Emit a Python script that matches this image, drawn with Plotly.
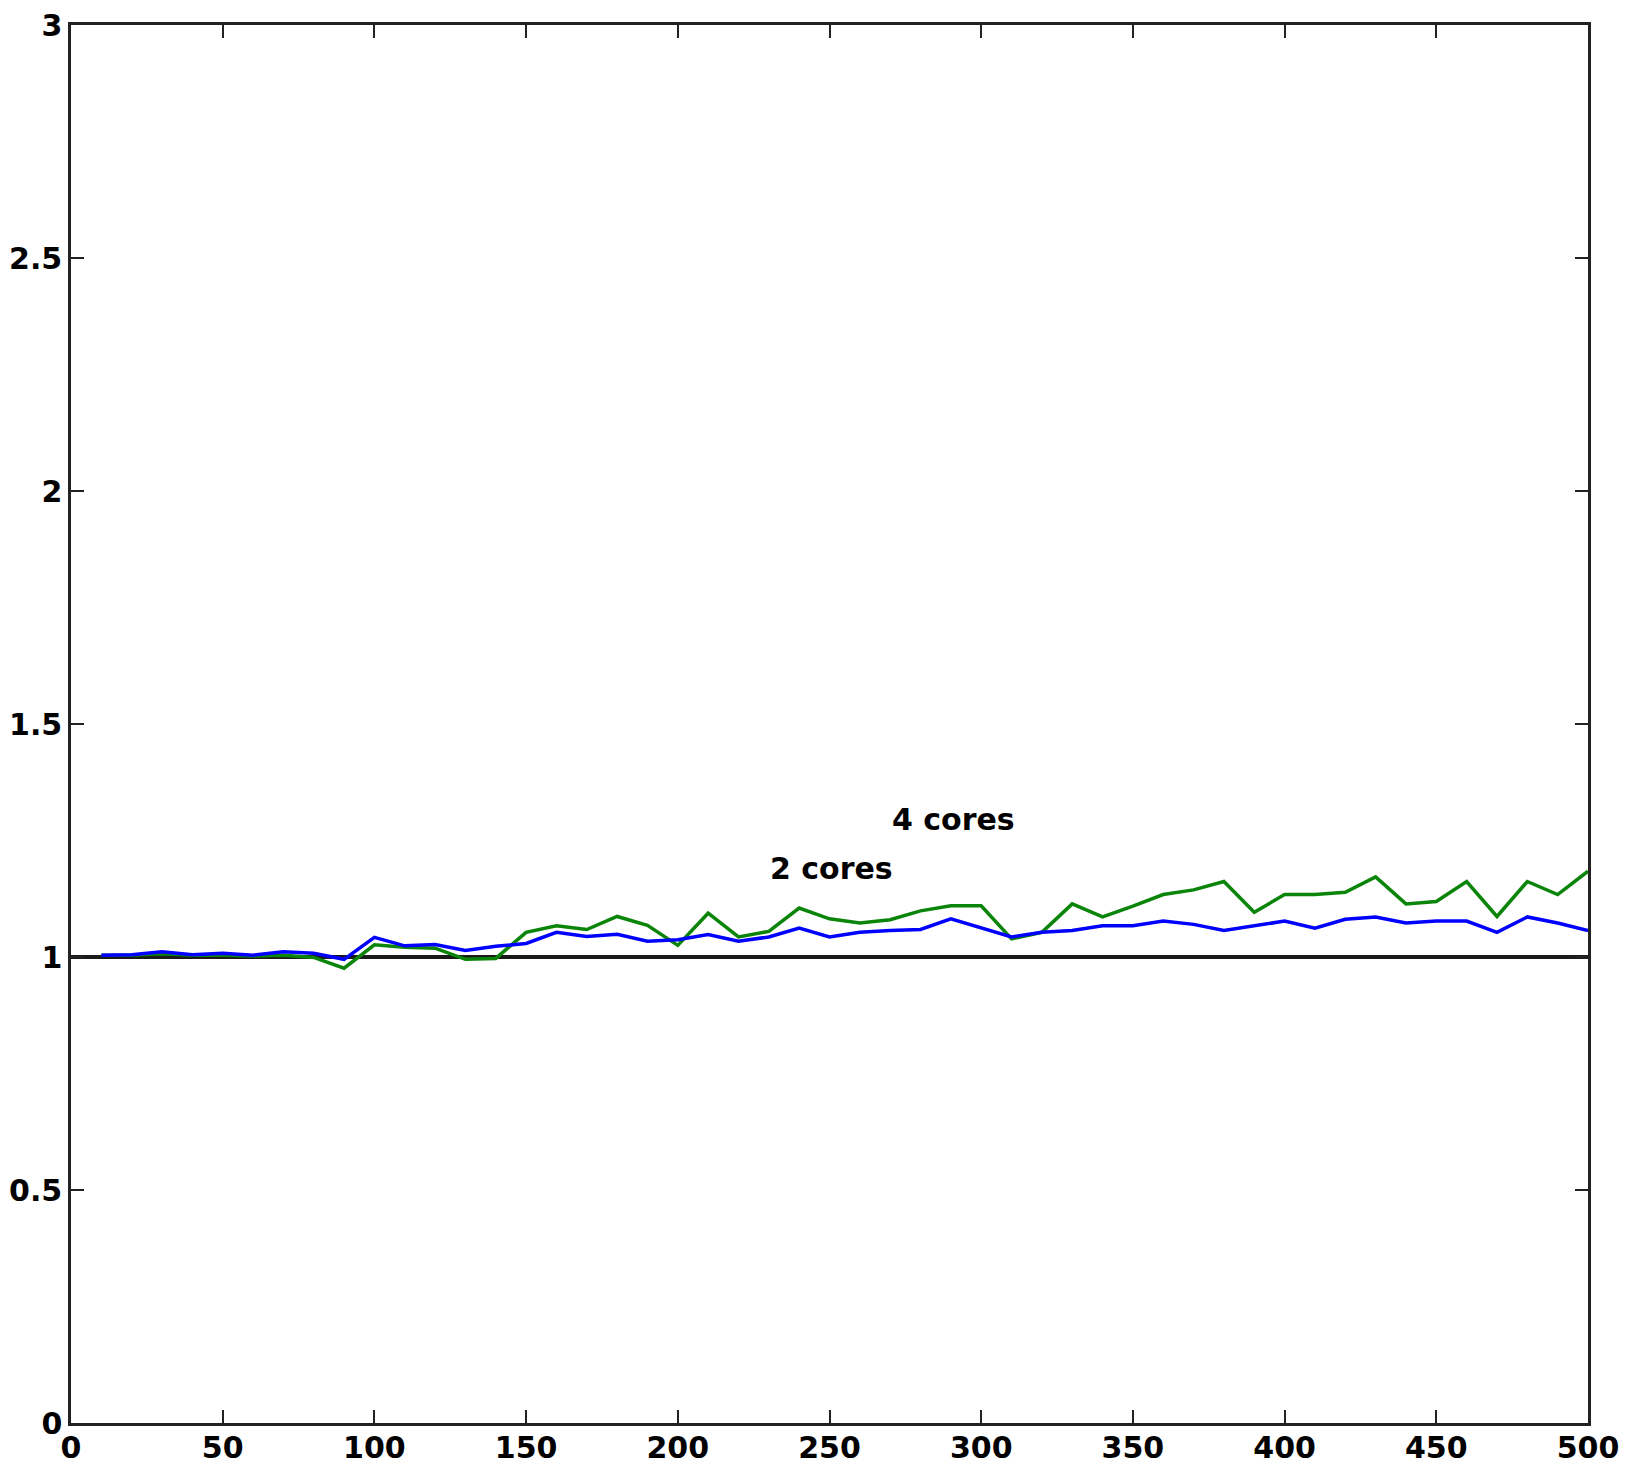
import plotly.graph_objects as go

# Problem size (x) and speed-up ratio for each core count
sizes = list(range(10, 510, 10))

speedup_2_cores = [
    1.004, 1.005, 1.011, 1.005, 1.008, 1.004, 1.011, 1.008, 0.995, 1.042,
    1.024, 1.027, 1.014, 1.023, 1.029, 1.053, 1.044, 1.049, 1.034, 1.037,
    1.048, 1.034, 1.043, 1.062, 1.043, 1.053, 1.057, 1.059, 1.082, 1.062,
    1.043, 1.053, 1.057, 1.067, 1.067, 1.077, 1.070, 1.057, 1.067, 1.077,
    1.062, 1.081, 1.086, 1.073, 1.077, 1.077, 1.053, 1.086, 1.073, 1.057,
]

speedup_4_cores = [
    1.004, 1.004, 1.007, 1.004, 1.004, 1.002, 1.004, 0.999, 0.976, 1.026,
    1.021, 1.019, 0.995, 0.997, 1.053, 1.067, 1.059, 1.087, 1.068, 1.025,
    1.094, 1.043, 1.055, 1.105, 1.082, 1.073, 1.080, 1.099, 1.110, 1.110,
    1.039, 1.053, 1.114, 1.086, 1.109, 1.134, 1.144, 1.162, 1.096, 1.134,
    1.134, 1.139, 1.172, 1.114, 1.119, 1.162, 1.087, 1.162, 1.134, 1.184,
]

baseline_x = [0, 500]
baseline_y = [1, 1]

x_ticks = [0, 50, 100, 150, 200, 250, 300, 350, 400, 450, 500]
y_ticks = [0, 0.5, 1, 1.5, 2, 2.5, 3]
y_tick_text = ["0", "0.5", "1", "1.5", "2", "2.5", "3"]

# Series labels placed next to the curves: (text, x, y)
labels = [("2 cores", 250.5, 1.19), ("4 cores", 291, 1.295)]

font = dict(family="DejaVu Sans", size=30, color="black", weight="bold")

fig = go.Figure()
fig.add_trace(go.Scatter(x=baseline_x, y=baseline_y, mode="lines",
                         line=dict(color="#1a1a1a", width=4),
                         showlegend=False, hoverinfo="skip"))
fig.add_trace(go.Scatter(x=sizes, y=speedup_4_cores, mode="lines",
                         line=dict(color="#0a850a", width=3.5),
                         name="4 cores", showlegend=False))
fig.add_trace(go.Scatter(x=sizes, y=speedup_2_cores, mode="lines",
                         line=dict(color="#0000ff", width=3.5),
                         name="2 cores", showlegend=False))

for text, lx, ly in labels:
    fig.add_annotation(x=lx, y=ly, text=text, showarrow=False,
                       font=font, xanchor="center", yanchor="middle")

axis_common = dict(
    showgrid=False, zeroline=False, showline=True, linecolor="#222222",
    linewidth=2.5, mirror="allticks", ticks="inside", ticklen=13,
    tickwidth=2, tickcolor="#222222", tickfont=font, automargin=False,
)

fig.update_xaxes(range=[0, 500], tickvals=x_ticks, ticklabelstandoff=-4,
                 **axis_common)
fig.update_yaxes(range=[0, 3], tickvals=y_ticks, ticktext=y_tick_text,
                 **axis_common)

fig.update_layout(
    width=1632, height=1465,
    margin=dict(l=71, r=44, t=25, b=42),
    plot_bgcolor="white", paper_bgcolor="white",
)

fig.write_html("out.html")
